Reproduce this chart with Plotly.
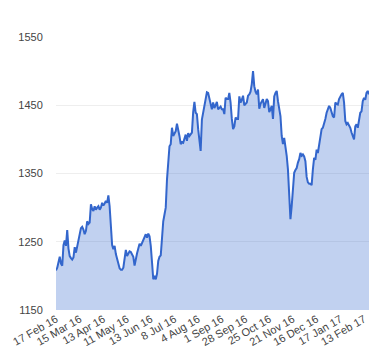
import plotly.graph_objects as go

# Tick labels shown on the category axis (every 19th trading day)
tick_labels = ["17 Feb 16", "15 Mar 16", "13 Apr 16", "11 May 16", "13 Jun 16",
               "8 Jul 16", "4 Aug 16", "1 Sep 16", "28 Sep 16", "25 Oct 16",
               "21 Nov 16", "16 Dec 16", "17 Jan 17", "13 Feb 17"]
label_step = 19

values = [
    1208, 1212, 1220, 1228, 1218, 1215, 1245, 1252, 1244, 1267,
    1240, 1229, 1226, 1224, 1227, 1242, 1234, 1244, 1251, 1262,
    1270, 1272, 1268, 1261, 1266, 1280, 1276, 1278, 1305, 1298,
    1295, 1302, 1297, 1300, 1302, 1297, 1300, 1307, 1303, 1306,
    1310, 1307, 1318, 1302, 1270, 1245, 1239, 1244, 1232, 1224,
    1217, 1211, 1209, 1209, 1212, 1225, 1238, 1229, 1232, 1236,
    1235, 1231, 1228, 1215, 1226, 1233, 1240, 1247, 1244, 1248,
    1251, 1256, 1261, 1256, 1262, 1258, 1244, 1220, 1195, 1200,
    1195, 1203, 1222, 1228, 1230, 1255, 1280, 1290, 1300, 1341,
    1375, 1390, 1393, 1417, 1405, 1410, 1412, 1423, 1416, 1405,
    1393, 1396, 1395, 1400, 1407, 1398, 1409, 1405, 1407, 1410,
    1440, 1455, 1439, 1437, 1415, 1400, 1383, 1429, 1440, 1446,
    1459, 1469, 1468, 1459, 1452, 1444, 1454, 1446, 1450, 1455,
    1444, 1446, 1448, 1444, 1444, 1437, 1461, 1459, 1459, 1468,
    1454, 1430, 1415, 1419, 1432, 1430, 1430, 1463, 1454, 1458,
    1464, 1450, 1452, 1454, 1464, 1466, 1470, 1481, 1500, 1478,
    1470, 1466, 1473, 1445, 1452, 1456, 1459, 1446, 1452, 1459,
    1456, 1440, 1444, 1449, 1430, 1463, 1468, 1471, 1456, 1445,
    1434, 1405, 1393, 1402, 1390, 1376, 1356, 1310, 1283, 1302,
    1332, 1351, 1355, 1358, 1366, 1371, 1380, 1376, 1378, 1375,
    1368, 1345, 1337, 1335, 1335, 1333, 1356, 1373, 1370, 1385,
    1380, 1390, 1405, 1415, 1417, 1422, 1430, 1439, 1445, 1449,
    1446, 1440, 1434, 1432, 1454, 1452, 1451, 1459, 1463, 1466,
    1468, 1454, 1427, 1422, 1424, 1420, 1417, 1410, 1405, 1400,
    1419, 1422, 1417, 1432, 1439, 1441, 1456, 1461, 1458, 1468,
    1471, 1466,
]

y_ticks = [1150, 1250, 1350, 1450, 1550]

x_index = list(range(len(values)))
tick_positions = [i * label_step for i in range(len(tick_labels))]

fig = go.Figure(
    go.Scatter(
        x=x_index,
        y=values,
        mode="lines",
        line=dict(color="#3366cc", width=2),
        fill="tozeroy",
        fillcolor="rgba(51,102,204,0.3)",
    )
)

fig.update_layout(
    width=380,
    height=360,
    margin=dict(l=53, r=11, t=37, b=50),
    paper_bgcolor="white",
    plot_bgcolor="white",
    showlegend=False,
    font=dict(family="Liberation Sans, Arial, sans-serif", size=11, color="#444444"),
)
fig.update_xaxes(
    range=[0, len(values) - 1],
    tickmode="array",
    tickvals=tick_positions,
    ticktext=tick_labels,
    tickangle=-30,
    showgrid=False,
    showline=False,
    zeroline=False,
    ticks="",
)
fig.update_yaxes(
    range=[1150, 1550],
    tickmode="array",
    tickvals=y_ticks,
    showgrid=True,
    gridcolor="#eeeeee",
    gridwidth=1,
    zeroline=False,
    showline=False,
    ticks="outside",
    ticklen=10,
    tickcolor="rgba(0,0,0,0)",
)

fig.write_html("out.html", config={"displayModeBar": False},
               post_script="document.body.style.margin='0';")
